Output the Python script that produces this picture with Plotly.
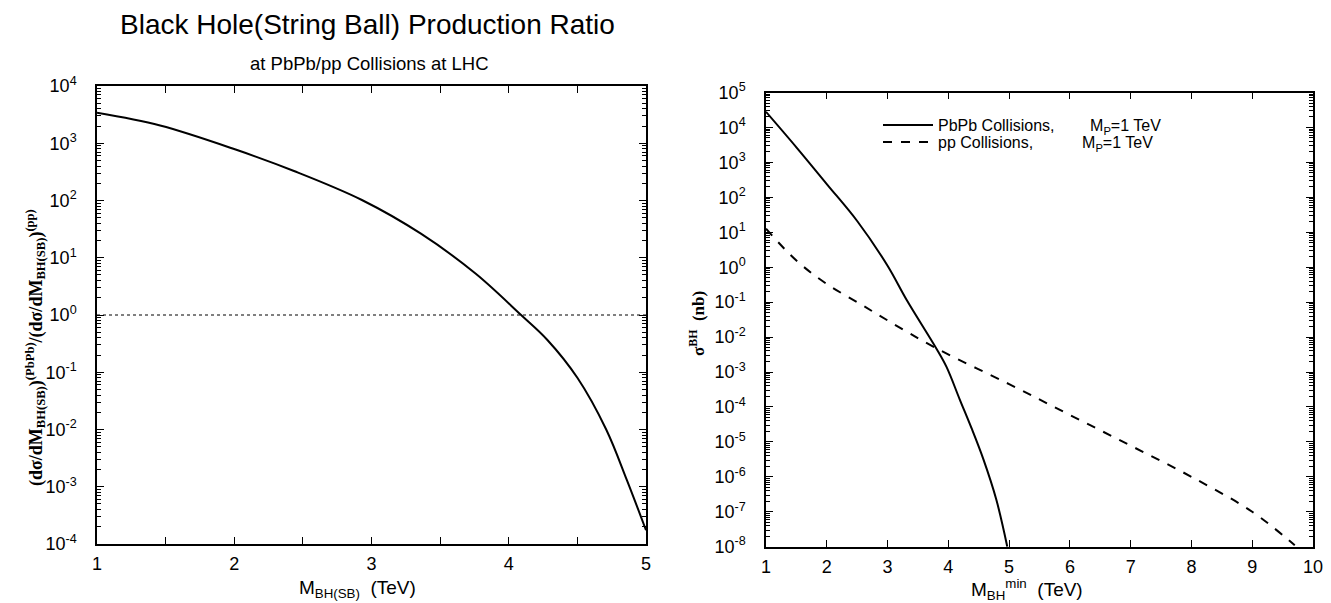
import plotly.graph_objects as go

# ---- data ----
ratio_mass = [1.0, 1.46, 2.01, 2.44, 2.93, 3.36, 3.76, 4.09, 4.28, 4.5, 4.71, 4.86, 5.0]
ratio_vals = [3400, 2040, 776, 324, 102, 26.3, 5.25, 1.0, 0.37, 0.080, 0.010, 1.32e-3, 1.74e-4]
ref_mass = [1.0, 5.0]
ref_vals = [1.0, 1.0]

pbpb_mass = [1.0, 1.5, 2.0, 2.5, 3.0, 3.315, 3.8, 3.97, 4.19, 4.38, 4.576, 4.79, 4.97]
pbpb_sigma = [2.8e4, 2.7e3, 240, 21, 1.1, 0.115, 4.8e-3, 1.4e-3, 1.6e-4, 2.5e-5, 3.2e-6, 2.2e-7, 1.0e-8]
pp_mass = [1.0, 1.5, 2.0, 2.55, 3.0, 3.8, 5.0, 6.0, 7.0, 8.0, 9.0, 9.7]
pp_sigma = [12.6, 1.55, 0.33, 0.089, 0.030, 4.8e-3, 4.5e-4, 5.9e-5, 7.8e-6, 1.0e-6, 1.0e-7, 1.1e-8]

left_xticks = [1, 2, 3, 4, 5]
right_xticks = [1, 2, 3, 4, 5, 6, 7, 8, 9, 10]
left_yexp = [-4, -3, -2, -1, 0, 1, 2, 3, 4]
right_yexp = [-8, -7, -6, -5, -4, -3, -2, -1, 0, 1, 2, 3, 4, 5]

# page has an 8px body margin; figure coordinates = reference pixel - 8
OFF = 8
W, H = 1331 - OFF, 603 - OFF
SANS = "Liberation Sans, Arial, sans-serif"
SERIF = "Liberation Serif, Times New Roman, serif"

fig = go.Figure()
fig.add_trace(go.Scatter(x=ratio_mass, y=ratio_vals, mode="lines", line=dict(color="black", width=2, shape="spline"),
                         xaxis="x", yaxis="y", showlegend=False))
fig.add_trace(go.Scatter(x=ref_mass, y=ref_vals, mode="lines", line=dict(color="black", width=1, dash="dot"),
                         xaxis="x", yaxis="y", showlegend=False))
fig.add_trace(go.Scatter(x=pbpb_mass, y=pbpb_sigma, mode="lines", line=dict(color="black", width=2, shape="spline"),
                         xaxis="x2", yaxis="y2", legend="legend",
                         name="PbPb Collisions," + "\u00a0" * 8 + "M<sub>P</sub>=1 TeV"))
fig.add_trace(go.Scatter(x=pp_mass, y=pp_sigma, mode="lines", line=dict(color="black", width=2, dash="dash", shape="spline"),
                         xaxis="x2", yaxis="y2", legend="legend2",
                         name="pp Collisions," + "\u00a0" * 11 + "M<sub>P</sub>=1 TeV"))

def px(x):
    return (x - OFF) / W

def py(y):
    return 1 - (y - OFF) / H

def pow_labels(exps):
    return [10.0 ** e for e in exps], ["10<sup>%s</sup>" % (("-%d" % -e) if e < 0 else "%d" % e) for e in exps]

lv, lt = pow_labels(left_yexp)
rv, rt = pow_labels(right_yexp)

axis_common = dict(showline=True, linecolor="black", linewidth=1.5, mirror="allticks", ticks="inside",
                   tickcolor="black", ticklen=7, tickwidth=1, showgrid=False, zeroline=False, automargin=False,
                   tickfont=dict(family=SANS, size=18, color="black"))

legend_common = dict(xanchor="left", yanchor="middle", bgcolor="rgba(0,0,0,0)", itemwidth=50,
                     font=dict(family=SANS, size=16, color="black"))

def ann(text, x, y, size, family=SANS, angle=0):
    return dict(text=text, x=px(x), y=py(y), xref="paper", yref="paper", xanchor="center", yanchor="middle",
                showarrow=False, textangle=angle, font=dict(family=family, size=size, color="black"))

fig.update_layout(
    width=W, height=H, margin=dict(l=0, r=0, t=0, b=0, autoexpand=False),
    paper_bgcolor="white", plot_bgcolor="white",
    xaxis=dict(domain=[px(97), px(646)], range=[1, 5], anchor="y", tickvals=left_xticks,
               minor=dict(dtick=0.5, ticks="inside", ticklen=7, tickcolor="black"),
               ticklabelstandoff=3, **axis_common),
    yaxis=dict(domain=[py(544), py(86)], type="log", range=[-4, 4], anchor="x", tickvals=lv, ticktext=lt,
               ticklabelstandoff=15,
               minor=dict(dtick="D1", ticks="inside", ticklen=4, tickcolor="black"), **axis_common),
    xaxis2=dict(domain=[px(766), px(1313)], range=[1, 10], anchor="y2", tickvals=right_xticks,
                ticklabelstandoff=3, **axis_common),
    yaxis2=dict(domain=[py(546.7), py(92.5)], type="log", range=[-8, 5], anchor="x2", tickvals=rv, ticktext=rt,
                ticklabelstandoff=15,
                minor=dict(dtick="D1", ticks="inside", ticklen=4, tickcolor="black"), **axis_common),
    legend=dict(x=px(878), y=py(125), **legend_common),
    legend2=dict(x=px(878), y=py(142), **legend_common),
    annotations=[
        ann("Black Hole(String Ball) Production Ratio", 367, 24, 28),
        ann("at PbPb/pp Collisions at LHC", 370, 63, 18.5),
        ann("M<sub>BH(SB)</sub>  (TeV)", 357, 589, 19),
        ann("M<sub>BH</sub><sup>min</sup>  (TeV)", 1027, 589, 19),
        ann("<b>(dσ/dM<sub>BH(SB)</sub>)<sup>(PbPb)</sup>/(dσ/dM<sub>BH(SB)</sub>)<sup>(pp)</sup></b>",
            35, 348, 18, SERIF, -90),
        ann("<b>σ<sup>BH</sup>  (nb)</b>", 697, 324, 17, SERIF, -90),
    ],
)

fig.write_html("out.html")
